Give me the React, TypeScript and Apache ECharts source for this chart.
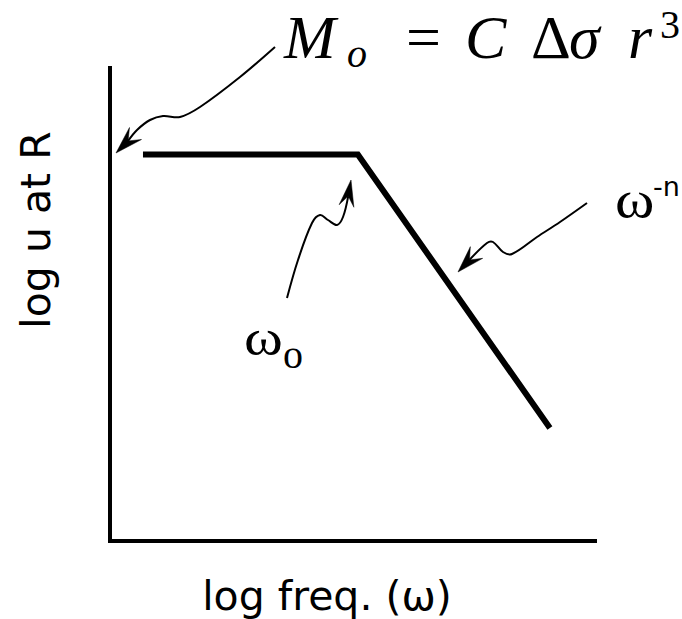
import React, { useEffect, useRef } from "react";
import * as echarts from "echarts";

// Idealised source spectrum: flat plateau, corner frequency, then fall-off.
const logFreq = [6.8, 51.1, 90.7];
const logAmp = [81.7, 81.7, 23.9];

const xAxisTitle = "log freq. (ω)";
const yAxisTitle = "log u at R";

const W = 682;
const H = 619;

type Pt = [number, number];

// Wavy annotation arrow: a smooth shaft plus a notched, filled head.
function arrow(shaft: Pt[], tip: Pt, back: Pt, halfWidth: number) {
  const dx = tip[0] - back[0];
  const dy = tip[1] - back[1];
  const len = Math.hypot(dx, dy);
  const ux = dx / len;
  const uy = dy / len;
  const nx = -uy;
  const ny = ux;
  const notch: Pt = [tip[0] - ux * len * 0.62, tip[1] - uy * len * 0.62];
  const head: Pt[] = [
    tip,
    [back[0] + nx * halfWidth, back[1] + ny * halfWidth],
    notch,
    [back[0] - nx * halfWidth, back[1] - ny * halfWidth],
  ];
  return [
    {
      type: "polyline",
      shape: { points: [...shaft, notch], smooth: 0.35 },
      style: { stroke: "#000", lineWidth: 2, fill: null },
      silent: true,
    },
    {
      type: "polygon",
      shape: { points: head },
      style: { fill: "#000", stroke: "#000", lineWidth: 0.5 },
      silent: true,
    },
  ];
}

const SERIF = "'Liberation Serif', 'DejaVu Serif', serif";
const SANS = "'DejaVu Sans', sans-serif";

function txt(
  text: string,
  x: number,
  y: number,
  size: number,
  family: string,
  italic = false,
  align: "left" | "center" = "left"
) {
  return {
    type: "text",
    x,
    y,
    silent: true,
    style: {
      text,
      fill: "#000",
      fontSize: size,
      fontFamily: family,
      fontStyle: italic ? "italic" : "normal",
      align,
      verticalAlign: "middle",
    },
  };
}

export default function App() {
  const ref = useRef<HTMLDivElement>(null);

  useEffect(() => {
    document.body.style.margin = "0";
    if (!ref.current) return;
    const chart = echarts.init(ref.current, null, { renderer: "svg" });

    const graphics: any[] = [
      // M_o = C Δσ r^3
      txt("M", 284, 37, 62, SERIF, true),
      txt("o", 347, 53.5, 40, SERIF, true),
      txt("=", 406, 37, 62, SERIF),
      txt("C", 465, 37, 62, SERIF, true),
      txt("Δ", 531, 37, 62, SERIF),
      txt("σ", 569, 37, 62, SERIF, true),
      txt("r", 628, 37, 62, SERIF, true),
      txt("3", 660, 24.5, 40, SERIF),
      // ω_o
      { ...txt("ω", 244, 338, 50, SERIF), scaleX: 1.18 },
      txt("o", 283, 354.5, 40, SERIF),
      // ω^-n
      { ...txt("ω", 615, 199, 52, SERIF), scaleX: 1.15 },
      txt("-n", 653, 186, 27, SANS),
      // axis titles
      txt(xAxisTitle, 327, 596, 41, SANS, false, "center"),
      {
        ...txt(yAxisTitle, 36, 230, 41, SANS, false, "center"),
        rotation: Math.PI / 2,
      },
      ...arrow(
        [
          [275, 47],
          [240, 77],
          [200, 107],
          [180, 117],
          [163, 116],
          [150, 120],
          [137, 130],
        ],
        [116, 153],
        [135.5, 133.5],
        8.5
      ),
      ...arrow(
        [
          [287, 298],
          [298, 260],
          [312, 223],
          [320, 215],
          [328, 220],
          [337, 225],
          [343, 217],
        ],
        [351, 180],
        [346.5, 206],
        7.5
      ),
      ...arrow(
        [
          [587, 203],
          [560, 222],
          [537, 237],
          [512, 254],
          [503, 252],
          [493, 242],
          [487, 243],
        ],
        [458, 272],
        [476.5, 252.5],
        8.5
      ),
    ];

    const axisCommon = {
      type: "value" as const,
      min: 0,
      max: 100,
      axisLine: {
        show: true,
        onZero: false,
        lineStyle: { color: "#000", width: 4, cap: "square" },
      },
      axisTick: { show: false },
      axisLabel: { show: false },
      splitLine: { show: false },
    };

    chart.setOption({
      animation: false,
      backgroundColor: "#fff",
      grid: { left: 110, right: 87, top: 68, bottom: 78, containLabel: false },
      xAxis: axisCommon,
      yAxis: axisCommon,
      series: [
        {
          type: "line",
          data: logFreq.map((x, i) => [x, logAmp[i]]),
          symbol: "none",
          silent: true,
          lineStyle: { color: "#000", width: 6, cap: "butt", join: "miter" },
        },
      ],
      graphic: graphics,
    });

    return () => chart.dispose();
  }, []);

  return <div ref={ref} style={{ width: W, height: H }} />;
}
